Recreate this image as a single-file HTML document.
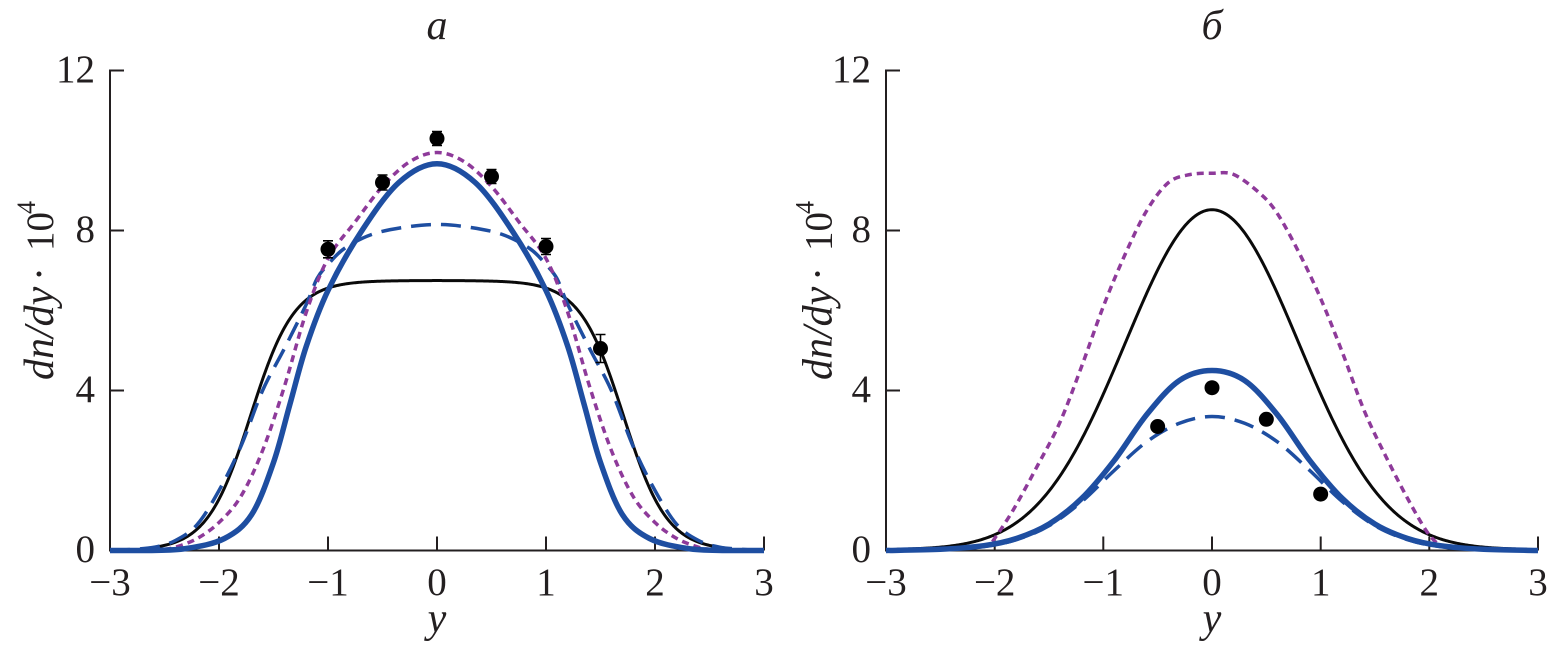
<!DOCTYPE html>
<html><head><meta charset="utf-8">
<style>
html,body{margin:0;padding:0;background:#fff;}
svg{display:block;}
text{font-family:"Liberation Serif","Times New Roman",serif;fill:#231f20;}
.t{font-size:39px;}
.it{font-style:italic;font-size:42px;}
</style></head>
<body>
<svg id="s" width="1553" height="649" viewBox="0 0 1553 649" xmlns="http://www.w3.org/2000/svg">
<rect width="1553" height="649" fill="#fff"/>
<!-- Left axes -->
<path d="M124 70.5H110V550.5H764 M110 230.5H124 M110 390.5H124 M219 550.5V536.5 M328 550.5V536.5 M437 550.5V536.5 M546 550.5V536.5 M655 550.5V536.5 M764 550.5V536.5" stroke="#231f20" stroke-width="2" fill="none"/>
<!-- Right axes -->
<path d="M900 70.5H886V550.5H1538 M886 230.5H900 M886 390.5H900 M994.7 550.5V536.5 M1103.3 550.5V536.5 M1212 550.5V536.5 M1320.7 550.5V536.5 M1429.3 550.5V536.5 M1538 550.5V536.5" stroke="#231f20" stroke-width="2" fill="none"/>

<g text-anchor="end">
<text class="t" x="95" y="82">12</text>
<text class="t" x="95" y="242">8</text>
<text class="t" x="95" y="402">4</text>
<text class="t" x="95" y="562">0</text>
<text class="t" x="871" y="82">12</text>
<text class="t" x="871" y="242">8</text>
<text class="t" x="871" y="402">4</text>
<text class="t" x="871" y="562">0</text>
</g>
<g text-anchor="middle">
<text class="t" x="110" y="595">−3</text>
<text class="t" x="219" y="595">−2</text>
<text class="t" x="328" y="595">−1</text>
<text class="t" x="437" y="595">0</text>
<text class="t" x="546" y="595">1</text>
<text class="t" x="655" y="595">2</text>
<text class="t" x="764" y="595">3</text>
<text class="t" x="886" y="595">−3</text>
<text class="t" x="994.7" y="595">−2</text>
<text class="t" x="1103.3" y="595">−1</text>
<text class="t" x="1212" y="595">0</text>
<text class="t" x="1320.7" y="595">1</text>
<text class="t" x="1429.3" y="595">2</text>
<text class="t" x="1538" y="595">3</text>
<text class="it" x="437" y="39">a</text>
<text class="it" x="1212" y="39">б</text>
<text class="it" x="437" y="632">y</text>
<text class="it" x="1212" y="632">y</text>
</g>

<!-- Y labels -->
<g transform="translate(53,380) rotate(-90)">
<text class="it" x="0" y="0">dn/dy</text>
<text x="106" y="0" font-size="42" text-anchor="middle">·</text>
<text x="129" y="0" font-size="39">10</text>
<text x="166" y="-18" font-size="26">4</text>
</g>
<g transform="translate(831.5,380) rotate(-90)">
<text class="it" x="0" y="0">dn/dy</text>
<text x="106" y="0" font-size="42" text-anchor="middle">·</text>
<text x="129" y="0" font-size="39">10</text>
<text x="166" y="-18" font-size="26">4</text>
</g>

<g id="curves"></g>
<g id="pts"></g>
</svg>
<script>
(function(){
const NS="http://www.w3.org/2000/svg";
const g=document.getElementById('curves');
const gp=document.getElementById('pts');
const py=v=>550.5-40*v;
const LX=y=>437+109*y;
const RX=y=>1212+108.67*y;
function mirror(h){const a=[];for(let i=h.length-1;i>0;i--)a.push([-h[i][0],h[i][1]]);return a.concat(h);}
function f(n){return n.toFixed(2);}
function cr(pts){
  let d="M"+f(pts[0][0])+","+f(pts[0][1]);
  for(let i=0;i<pts.length-1;i++){
    const p0=pts[i-1]||pts[i],p1=pts[i],p2=pts[i+1],p3=pts[i+2]||p2;
    const c1=[p1[0]+(p2[0]-p0[0])/6,Math.min(550.5,p1[1]+(p2[1]-p0[1])/6)];
    const c2=[p2[0]-(p3[0]-p1[0])/6,Math.min(550.5,p2[1]-(p3[1]-p1[1])/6)];
    d+="C"+f(c1[0])+","+f(c1[1])+" "+f(c2[0])+","+f(c2[1])+" "+f(p2[0])+","+f(p2[1]);
  }
  return d;
}
function poly(fn,X,a,b,st){
  let d="";for(let y=a;y<=b+1e-9;y+=st){d+=(d?"L":"M")+f(X(y))+","+f(py(fn(y)));}return d;
}
function add(d,stroke,w,dash){
  const p=document.createElementNS(NS,'path');
  p.setAttribute('d',d);p.setAttribute('fill','none');p.setAttribute('stroke',stroke);
  p.setAttribute('stroke-width',w);p.setAttribute('stroke-linejoin','round');
  if(dash)p.setAttribute('stroke-dasharray',dash);
  g.appendChild(p);
}
function toPx(pts,X){return pts.map(p=>[X(p[0]),py(p[1])]);}
const BLUE="#1e4ea1",PURP="#8e3a9a",BLK="#0a0a0a";

/* ---------- Left panel ---------- */
add(poly(y=>6.75/(1+Math.exp((Math.abs(y)-1.71)/0.2)),LX,-2.66,2.66,0.01),BLK,3);
const dashL=mirror([[0,8.15],[0.3,8.08],[0.6,7.9],[0.85,7.55],[1.0,7.15],[1.1,6.8],[1.2,6.15],[1.4,5.05],[1.6,4.0],[1.8,2.6],[2.0,1.5],[2.2,0.65],[2.4,0.25],[2.6,0.08],[2.9,0.01],[3,0]]);
add(cr(toPx(dashL,LX)),BLUE,3.5,"20 10");
const purpL=mirror([[0,9.95],[0.25,9.72],[0.5,9.1],[0.75,8.22],[1.0,7.3],[1.2,5.95],[1.4,4.1],[1.6,2.5],[1.8,1.35],[2.0,0.7],[2.2,0.3],[2.4,0.08],[2.5,0.03]]);
add(cr(toPx(purpL,LX)),PURP,3.5,"7 5");
const blueL=mirror([[0,9.67],[0.35,9.2],[0.7,7.95],[1.0,6.5],[1.2,5.1],[1.35,3.65],[1.5,2.2],[1.7,0.9],[1.95,0.3],[2.3,0.05],[2.65,0],[3,0]]);
add(cr(toPx(blueL,LX)),BLUE,5.5);

/* ---------- Right panel ---------- */
add(poly(y=>8.5*Math.exp(-y*y/1.28)+0.02,RX,-2.9,2.9,0.01),BLK,3);
const dashR=mirror([[0,3.35],[0.3,3.18],[0.6,2.72],[0.9,2.0],[1.2,1.22],[1.5,0.62],[1.8,0.27],[2.1,0.1],[2.5,0.02],[3,0]]);
add(cr(toPx(dashR,RX)),BLUE,3.5,"20 10");
const purpR=[[-2.02,0.22],[-1.83,1.01],[-1.6,2.15],[-1.4,3.2],[-1.2,4.6],[-1.0,6.1],[-0.8,7.4],[-0.6,8.5],[-0.4,9.2],[-0.2,9.4],[0,9.43],[0.2,9.4],[0.44,8.93],[0.6,8.43],[0.8,7.45],[1.0,6.3],[1.2,4.95],[1.4,3.5],[1.6,2.35],[1.8,1.3],[1.97,0.5],[2.08,0.15]];
add(cr(toPx(purpR,RX)),PURP,3.5,"7 5");
const blueR=mirror([[0,4.5],[0.3,4.25],[0.6,3.4],[0.9,2.25],[1.2,1.3],[1.5,0.66],[1.8,0.3],[2.1,0.12],[2.5,0.03],[3,0]]);
add(cr(toPx(blueR,RX)),BLUE,5.5);

/* ---------- Data points ---------- */
function dot(x,y,e){
  if(e){
    const l=document.createElementNS(NS,'path');
    l.setAttribute('d',"M"+f(x)+","+f(y-e)+"V"+f(y+e)+"M"+f(x-5)+","+f(y-e)+"H"+f(x+5)+"M"+f(x-5)+","+f(y+e)+"H"+f(x+5));
    l.setAttribute('stroke','#000');l.setAttribute('stroke-width','1.6');l.setAttribute('fill','none');
    gp.appendChild(l);
  }
  const c=document.createElementNS(NS,'circle');
  c.setAttribute('cx',f(x));c.setAttribute('cy',f(y));c.setAttribute('r','7.5');c.setAttribute('fill','#000');
  gp.appendChild(c);
}
[[-1,7.53,8.5],[-0.5,9.2,7.5],[0,10.3,7],[0.5,9.35,7],[1,7.6,8],[1.5,5.05,14]].forEach(p=>dot(LX(p[0]),py(p[1]),p[2]));
[[-0.5,3.1],[0,4.07],[0.5,3.28],[1,1.41]].forEach(p=>dot(RX(p[0]),py(p[1]),0));
})();
</script>
</body></html>
